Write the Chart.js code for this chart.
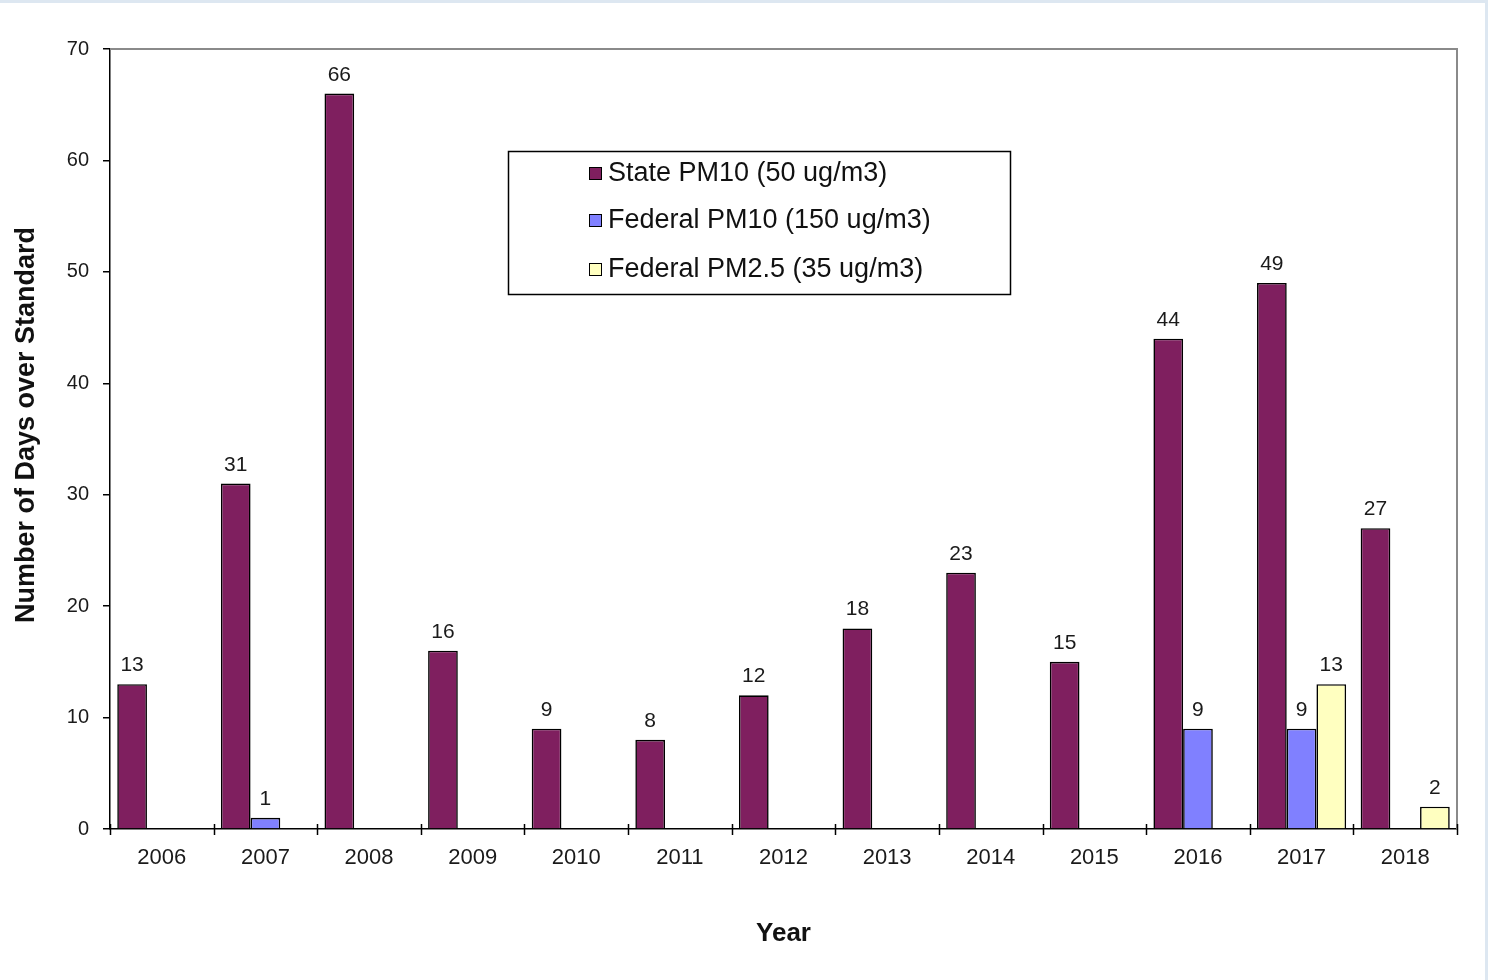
<!DOCTYPE html>
<html>
<head>
<meta charset="utf-8">
<script src="https://cdn.jsdelivr.net/npm/chart.js@4.4.1/dist/chart.umd.min.js"></script>
<style>
  html, body { margin: 0; padding: 0; background: #fff; }
  #wrap { width: 1488px; height: 980px; position: relative; }
</style>
</head>
<body>
<div id="wrap"><canvas id="myChart" width="1488" height="980"></canvas></div>
<script>
const years = ['2006', '2007', '2008', '2009', '2010', '2011', '2012', '2013', '2014', '2015', '2016', '2017', '2018'];
const statePM10 = [13, 31, 66, 16, 9, 8, 12, 18, 23, 15, 44, 49, 27];
const federalPM10 = [null, 1, null, null, null, null, null, null, null, null, 9, 9, null];
const federalPM25 = [null, null, null, null, null, null, null, null, null, null, null, 13, 2];
const seriesNames = ['State PM10 (50 ug/m3)', 'Federal PM10 (150 ug/m3)', 'Federal PM2.5 (35 ug/m3)'];
const seriesColors = ['#7f1f5f', '#8080ff', '#ffffc0'];
const yTicks = [0, 10, 20, 30, 40, 50, 60, 70];
const yTitle = 'Number of Days over Standard';

const FONT = '"Liberation Sans", Arial, sans-serif';

// frame strips, plot border, crossing x ticks, value labels, boxed legend, y title
const decor = {
  id: 'decor',
  beforeDraw(chart) {
    const ctx = chart.ctx;
    ctx.save();
    ctx.fillStyle = '#dde7f1';
    ctx.fillRect(0, 0, chart.width, 3);
    ctx.fillRect(chart.width - 3, 0, 3, chart.height);
    ctx.restore();
  },
  afterDraw(chart) {
    const ctx = chart.ctx;
    const a = chart.chartArea;
    const xs = chart.scales.x;
    ctx.save();

    // plot area border (top / right)
    ctx.strokeStyle = '#8a8a8a';
    ctx.lineWidth = 2;
    ctx.beginPath();
    ctx.moveTo(a.left, a.top);
    ctx.lineTo(a.right, a.top);
    ctx.lineTo(a.right, a.bottom);
    ctx.stroke();

    // x ticks crossing the axis at category boundaries
    ctx.strokeStyle = '#000';
    ctx.lineWidth = 1.5;
    const n = years.length;
    for (let i = 0; i <= n; i++) {
      const x = Math.round(xs.left + i * (xs.right - xs.left) / n) + 0.5;
      ctx.beginPath();
      ctx.moveTo(x, a.bottom - 5);
      ctx.lineTo(x, a.bottom + 6);
      ctx.stroke();
    }

    // value labels
    ctx.fillStyle = '#1a1a1a';
    ctx.font = '21px ' + FONT;
    ctx.textAlign = 'center';
    ctx.textBaseline = 'alphabetic';
    chart.data.datasets.forEach((ds, di) => {
      chart.getDatasetMeta(di).data.forEach((bar, i) => {
        const v = ds.data[i];
        if (v === null) return;
        ctx.fillText(String(v), bar.x, bar.y - 13);
      });
    });

    // y axis title (sits a bit above the plot centre, as in the original)
    ctx.save();
    ctx.translate(27, 425);
    ctx.rotate(-Math.PI / 2);
    ctx.font = 'bold 27px ' + FONT;
    ctx.fillStyle = '#111';
    ctx.textAlign = 'center';
    ctx.textBaseline = 'middle';
    ctx.fillText(yTitle, 0, 0);
    ctx.restore();

    // legend
    const lx = 508, ly = 151, lw = 502, lh = 143;
    ctx.fillStyle = '#fff';
    ctx.fillRect(lx, ly, lw, lh);
    ctx.strokeStyle = '#000';
    ctx.lineWidth = 1.5;
    ctx.strokeRect(lx + 0.5, ly + 0.5, lw, lh);
    const rows = [173, 220, 269];
    ctx.font = '27px ' + FONT;
    ctx.textAlign = 'left';
    ctx.textBaseline = 'middle';
    chart.data.datasets.forEach((ds, di) => {
      const y = rows[di];
      ctx.fillStyle = ds.backgroundColor;
      ctx.fillRect(589, y - 6, 12, 12);
      ctx.strokeStyle = '#000';
      ctx.lineWidth = 1;
      ctx.strokeRect(589.5, y - 5.5, 12, 12);
      ctx.fillStyle = '#111';
      ctx.fillText(ds.label, 608, y + 1);
    });
    ctx.restore();
  }
};

new Chart(document.getElementById('myChart'), {
  type: 'bar',
  data: {
    labels: years,
    datasets: [
      { label: seriesNames[0], data: statePM10, backgroundColor: seriesColors[0] },
      { label: seriesNames[1], data: federalPM10, backgroundColor: seriesColors[1] },
      { label: seriesNames[2], data: federalPM25, backgroundColor: seriesColors[2] }
    ].map(d => Object.assign(d, {
      borderColor: '#000',
      borderWidth: 1.6,
      borderSkipped: 'bottom',
      categoryPercentage: 0.86,
      barPercentage: 1.0
    }))
  },
  options: {
    responsive: false,
    animation: false,
    layout: { padding: { left: 13, top: 49, right: 31, bottom: 31 } },
    plugins: {
      legend: { display: false },
      tooltip: { enabled: false }
    },
    scales: {
      x: {
        offset: true,
        grid: { display: false },
        border: { display: true, color: '#000', width: 1.5 },
        ticks: { color: '#1a1a1a', font: { family: FONT, size: 22 }, padding: 8, maxRotation: 0 },
        title: { display: true, text: 'Year', color: '#111', font: { family: FONT, size: 26, weight: 'bold' }, padding: 0 },
        afterFit(scale) { scale.height = 120; }
      },
      y: {
        min: 0,
        max: 70,
        afterBuildTicks(scale) { scale.ticks = yTicks.map(v => ({ value: v })); },
        grid: { drawOnChartArea: false, drawTicks: true, tickLength: 7, color: '#000', lineWidth: 1.5 },
        border: { display: true, color: '#000', width: 1.5 },
        ticks: { color: '#1a1a1a', font: { family: FONT, size: 20 }, padding: 14 },
        title: { display: false },
        afterFit(scale) { scale.width = 97; }
      }
    }
  },
  plugins: [decor]
});
</script>
</body>
</html>
